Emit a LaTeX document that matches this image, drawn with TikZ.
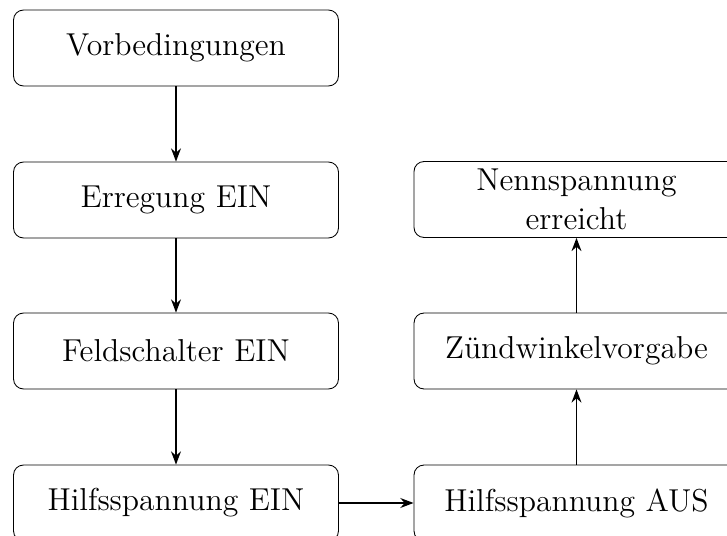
\documentclass[tikz,border=0pt]{standalone}
\usetikzlibrary{arrows.meta}
\begin{document}
\begin{tikzpicture}[x=0.4545pt, y=-0.4545pt,
  stepbox/.style={draw, rounded corners=4.5pt, minimum width=147.7pt,
    minimum height=34.5pt, inner ysep=3.2pt, text width=140pt, align=center,
    font=\Large},
  flow/.style={line width=0.7pt, -{Stealth[length=6pt, width=4.5pt]}}]
  % canvas
  \useasboundingbox (0,0) rectangle (727,536);
  % left column
  \node[stepbox] (vor)  at (176,48)  {Vorbedingungen};
  \node[stepbox] (err)  at (176,200) {Erregung EIN};
  \node[stepbox] (feld) at (176,351) {Feldschalter EIN};
  \node[stepbox] (hein) at (176,503) {Hilfsspannung EIN};
  % right column
  \node[stepbox] (haus) at (576.5,503)   {Hilfsspannung AUS};
  \node[stepbox] (zuend) at (576.5,351)  {Zündwinkelvorgabe};
  \node[stepbox] (nenn) at (576.5,199.5) {Nennspannung\\erreicht};
  % connectors
  \draw[flow] (vor) -- (err);
  \draw[flow] (err) -- (feld);
  \draw[flow] (feld) -- (hein);
  \draw[flow] (hein) -- (haus);
  \draw[flow] (haus) -- (zuend);
  \draw[flow] (zuend) -- (nenn);
\end{tikzpicture}
\end{document}
